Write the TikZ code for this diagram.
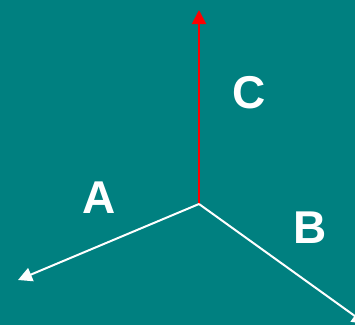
\documentclass[tikz,border=0pt]{standalone}
\usepackage{fontspec}
\setmainfont{Liberation Sans}
\usetikzlibrary{arrows.meta}

\definecolor{tealbg}{RGB}{0,128,128}

\tikzset{
    axis/.style={line width=2pt, -{Triangle[length=14pt, width=14pt]}},
    axislabel/.style={text=white, font=\fontsize{46}{46}\selectfont\bfseries, inner sep=0pt}
}

\begin{document}
\begin{tikzpicture}[x=1pt, y=1pt]
% background
\fill[tealbg] (0,0) rectangle (355,325);
\useasboundingbox (0,0) rectangle (355,325);

% axes
\coordinate (O) at (199,121);
\coordinate (tipC) at (199,315);
\coordinate (tipA) at (18,45);
\coordinate (tipB) at (366,1);

\begin{scope}
\clip (0,0) rectangle (355,325);
\draw[axis, red] (O) -- (tipC);
\draw[axis, white] (O) -- (tipA);
\draw[axis, white] (O) -- (tipB);
\end{scope}

% labels
\node[axislabel] (labA) at (99,127) {A};
\node[axislabel] (labB) at (310,97) {B};
\node[axislabel] (labC) at (249,232) {C};
\end{tikzpicture}
\end{document}
